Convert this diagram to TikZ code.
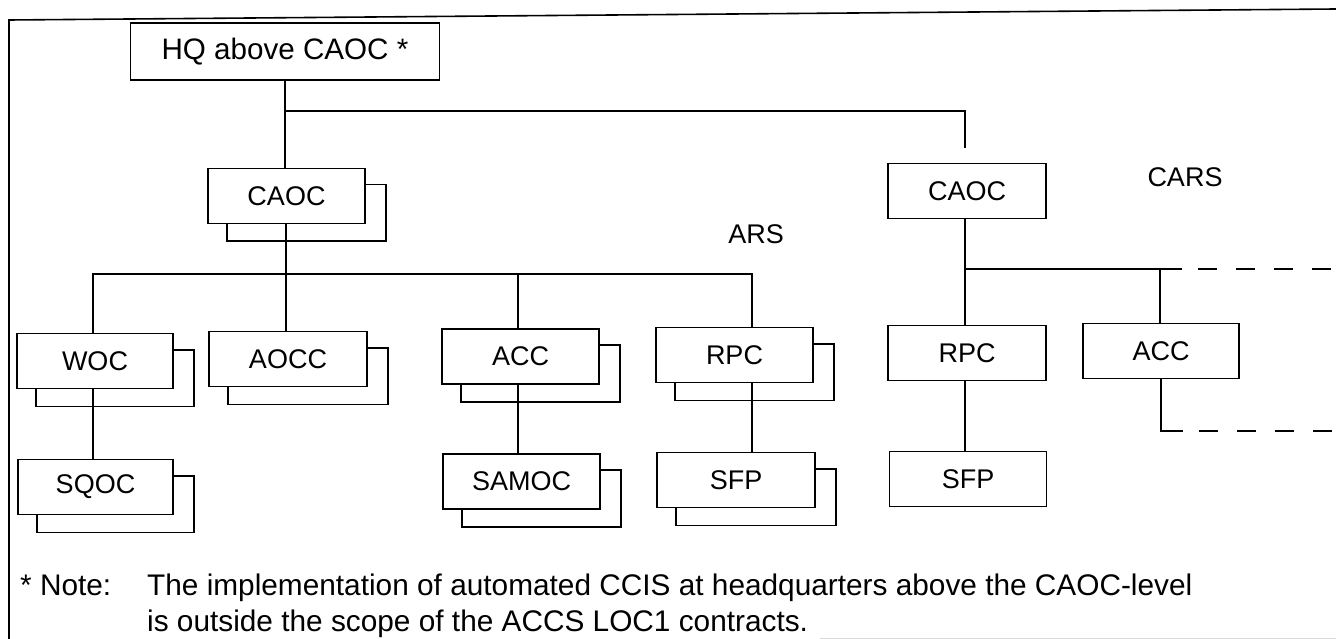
\documentclass[tikz,border=0pt]{standalone}
\usepackage{fontspec}
\setmainfont{Liberation Sans}
\newcommand\dupbox[1]{%
  \draw[link] ([xshift=20pt]#1.south west) |- ([xshift=20pt,yshift=-17pt]#1.south east)
    |- ([yshift=-17pt]#1.north east);}
\begin{document}
\begin{tikzpicture}[x=1pt,y=-1pt,
  link/.style={line width=1.7pt},
  ext/.style={line width=1.7pt, dash pattern=on 19pt off 19pt},
  box/.style={draw, line width=1.7pt, minimum width=157pt, minimum height=55pt,
    inner sep=0pt, font=\fontsize{27}{32}\selectfont},
  lbl/.style={inner sep=0pt, font=\fontsize{27}{32}\selectfont},
  note/.style={inner sep=0pt, anchor=base west, font=\fontsize{29.8}{36}\selectfont}]
\useasboundingbox (0,0) rectangle (1336,639);

% frame
\draw[line width=1.6pt] (9,639) -- (9,20) -- (1336,9);
\draw[black!15, line width=1pt] (820,638) -- (1336,638);

% boxes
\node[box, minimum width=309pt, minimum height=57pt,
      font=\fontsize{29.6}{34}\selectfont] (hq) at (285,51.5) {HQ above CAOC *};
\node[box] (caocA) at (286.5,196) {CAOC};
\node[box, minimum width=158pt] (caocB) at (967,191) {CAOC};
\node[box, minimum width=156pt] (woc) at (95,361) {WOC};
\node[box, minimum width=158pt] (aocc) at (288,359) {AOCC};
\node[box] (accA) at (520.5,356.5) {ACC};
\node[box] (rpcA) at (734.5,355) {RPC};
\node[box, minimum width=158pt] (rpcB) at (967,353) {RPC};
\node[box, minimum width=156pt] (accB) at (1161,351) {ACC};
\node[box, minimum width=155pt] (sqoc) at (95.5,487) {SQOC};
\node[box] (samoc) at (521.5,481.5) {SAMOC};
\node[box, minimum width=158pt] (sfpA) at (736,480) {SFP};
\node[box] (sfpB) at (968,479) {SFP};

% duplicated (stacked) boxes
\dupbox{caocA}
\dupbox{woc}
\dupbox{aocc}
\dupbox{accA}
\dupbox{rpcA}
\dupbox{sqoc}
\dupbox{samoc}
\dupbox{sfpA}

% labels
\node[lbl] (ars) at (756,234) {ARS};
\node[lbl] (cars) at (1185,177) {CARS};

% top level connectors
\coordinate (j0) at (285,111);
\coordinate (j1) at (965,148);
\draw[link] (hq.south -| j0) -- (j0 |- caocA.north);
\draw[link] (j0) -| (j1);

% ARS tree
\coordinate (c1) at (286,274);
\coordinate (bL) at (93,274);
\coordinate (b2) at (518,274);
\coordinate (bR) at (752,274);
\draw[link] (caocA.south -| c1) -- (c1 |- aocc.north);
\draw[link] (woc.north -| bL) |- (bR) -- (bR |- rpcA.north);
\draw[link] (b2) -- (b2 |- accA.north);
\draw[link] (woc.south -| bL) -- (bL |- sqoc.north);
\draw[link] (accA.south -| b2) -- (b2 |- samoc.north);
\draw[link] (rpcA.south -| bR) -- (bR |- sfpA.north);

% CARS tree
\coordinate (r1) at (965,269);
\coordinate (r2) at (1160,269);
\coordinate (r3) at (1182,269);
\coordinate (r4) at (1198,269);
\coordinate (rEnd) at (1336,269);
\draw[link] (caocB.south -| r1) -- (r1) -- (r3);
\draw[ext] (r4) -- (rEnd);
\draw[link] (r1) -- (r1 |- rpcB.north);
\draw[link] (r2) -- (r2 |- accB.north);
\draw[link] (rpcB.south -| r1) -- (r1 |- sfpB.north);
\coordinate (a1) at (1161,431);
\coordinate (a2) at (1183,431);
\coordinate (a3) at (1199,431);
\coordinate (aEnd) at (1336,431);
\draw[link] (accB.south -| a1) -- (a1) -- (a2);
\draw[ext] (a3) -- (aEnd);

% footnote
\node[note] (star) at (20,595) {* Note:};
\node[note] (n1) at (147,595) {The implementation of automated CCIS at headquarters above the CAOC-level};
\node[note] (n2) at (147,631) {is outside the scope of the ACCS LOC1 contracts.};
\end{tikzpicture}
\end{document}
